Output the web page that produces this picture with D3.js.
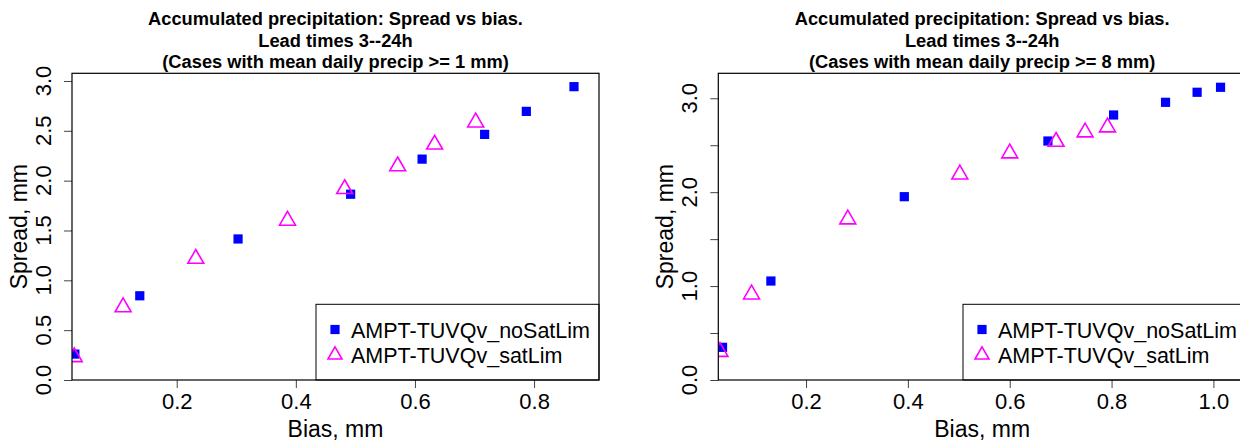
<!DOCTYPE html>
<html>
<head>
<meta charset="utf-8">
<script src="https://cdn.jsdelivr.net/npm/d3@7"></script>
<style>
  body { margin: 0; background: #fff; }
  svg { display: block; font-family: "Liberation Sans", Arial, sans-serif; }
</style>
</head>
<body>
<div id="chart"></div>
<script>
// left panel: cases with mean daily precip >= 1 mm
var biasNoSat1 = [0.029, 0.138, 0.303, 0.492, 0.612, 0.717, 0.787, 0.867];
var spreadNoSat1 = [0.26, 0.845, 1.415, 1.864, 2.216, 2.464, 2.695, 2.943];
var biasSat1 = [0.028, 0.110, 0.232, 0.386, 0.482, 0.571, 0.633, 0.702];
var spreadSat1 = [0.23, 0.731, 1.217, 1.599, 1.917, 2.145, 2.363, 2.585];

// right panel: cases with mean daily precip >= 8 mm
var biasNoSat8 = [0.036, 0.131, 0.393, 0.675, 0.804, 0.906, 0.968, 1.014];
var spreadNoSat8 = [0.348, 1.054, 1.952, 2.545, 2.822, 2.957, 3.064, 3.117];
var biasSat8 = [0.031, 0.093, 0.282, 0.502, 0.600, 0.691, 0.748, 0.792];
var spreadSat8 = [0.30, 0.912, 1.711, 2.19, 2.414, 2.538, 2.638, 2.691];

var seriesNames = ["AMPT-TUVQv_noSatLim", "AMPT-TUVQv_satLim"];
var titleLines1 = ["Accumulated precipitation: Spread vs bias.", "Lead times 3--24h", "(Cases with mean daily precip >= 1 mm)"];
var titleLines8 = ["Accumulated precipitation: Spread vs bias.", "Lead times 3--24h", "(Cases with mean daily precip >= 8 mm)"];

var xTicks1 = [0.2, 0.4, 0.6, 0.8];
var yTicks1 = [0, 0.5, 1, 1.5, 2, 2.5, 3];
var yLabels1 = [0, 0.5, 1, 1.5, 2, 2.5, 3];
var xTicks8 = [0.2, 0.4, 0.6, 0.8, 1.0];
var yTicks8 = [0, 0.5, 1, 1.5, 2, 2.5, 3];
var yLabels8 = [0, 1, 2, 3];

var W = 1240, H = 442;
var blue = "#0000ff", magenta = "#ff00ff";
var font = '"Liberation Sans", Arial, sans-serif';

var svg = d3.select("#chart").append("svg")
    .attr("width", W)
    .attr("height", H);

// R style triangle (pch 2), centred on the centroid
function triPath(s) {
    var r = 1.555 * s, xc = 1.347 * s, yc = 0.778 * s;
    return "M0," + (-r) + "L" + xc + "," + yc + "L" + (-xc) + "," + yc + "Z";
}

function drawPanel(p) {
    var x = d3.scaleLinear().domain(p.xDomain).range([p.left, p.right]);
    var y = d3.scaleLinear().domain(p.yDomain).range([p.bottom, p.top]);
    var g = svg.append("g");

    var clipId = "clip" + p.id;
    g.append("clipPath").attr("id", clipId)
        .append("rect")
        .attr("x", p.left).attr("y", p.top)
        .attr("width", p.right - p.left).attr("height", p.bottom - p.top);

    // title
    g.append("text")
        .attr("x", (p.left + p.right) / 2)
        .attr("y", 25)
        .attr("text-anchor", "middle")
        .style("font-size", "18.3px")
        .style("font-weight", "bold")
        .selectAll("tspan").data(p.title).join("tspan")
        .attr("x", (p.left + p.right) / 2)
        .attr("dy", (d, i) => i == 0 ? 0 : 21.6)
        .text(d => d);

    // x axis
    var xAxis = g.append("g")
        .attr("transform", "translate(0," + p.bottom + ")")
        .call(d3.axisBottom(x).tickValues(p.xTicks).tickSize(8).tickPadding(5).tickFormat(d3.format(".1f")))
        .attr("font-family", font).attr("font-size", null);
    xAxis.select(".domain").remove();
    xAxis.selectAll("line").attr("stroke", "#444");
    xAxis.selectAll("text").style("font-size", "22px").attr("fill", "#000");

    // y axis, labels rotated like R
    var yAxis = g.append("g")
        .attr("transform", "translate(" + p.left + ",0)")
        .call(d3.axisLeft(y).tickValues(p.yTicks).tickSize(8).tickFormat(""));
    yAxis.select(".domain").remove();
    yAxis.selectAll("line").attr("stroke", "#444");
    g.selectAll(".ylab").data(p.yLabels).join("text")
        .attr("class", "ylab")
        .attr("transform", d => "translate(" + (p.left - 21.5) + "," + y(d) + ") rotate(-90)")
        .attr("text-anchor", "middle")
        .style("font-size", "22px")
        .text(d => d3.format(".1f")(d));

    // axis titles
    g.append("text")
        .attr("x", (p.left + p.right) / 2)
        .attr("y", 437)
        .attr("text-anchor", "middle")
        .style("font-size", "23px")
        .text("Bias, mm");
    g.append("text")
        .attr("transform", "translate(" + (p.left - 45) + "," + ((p.top + p.bottom) / 2) + ") rotate(-90)")
        .attr("text-anchor", "middle")
        .style("font-size", "23px")
        .text("Spread, mm");

    // points
    var pts = g.append("g").attr("clip-path", "url(#" + clipId + ")");
    pts.selectAll(".sq").data(p.bx.map((d, i) => [d, p.by[i]])).join("rect")
        .attr("x", d => x(d[0]) - 4.6)
        .attr("y", d => y(d[1]) - 4.6)
        .attr("width", 9.2).attr("height", 9.2)
        .attr("fill", blue);
    pts.selectAll(".tri").data(p.tx.map((d, i) => [d, p.ty[i]])).join("path")
        .attr("transform", d => "translate(" + x(d[0]) + "," + y(d[1]) + ")")
        .attr("d", triPath(5.9))
        .attr("fill", "none")
        .attr("stroke", magenta)
        .attr("stroke-width", 1.6);

    // legend (bottomright)
    var lg = g.append("g");
    lg.append("rect")
        .attr("x", p.legLeft).attr("y", 304.3)
        .attr("width", p.right - p.legLeft).attr("height", p.bottom - 304.3)
        .attr("fill", "#fff").attr("stroke", "#000").attr("stroke-width", 1);
    lg.append("rect")
        .attr("x", p.legLeft + 19 - 4.6).attr("y", 329.5 - 4.6)
        .attr("width", 9.2).attr("height", 9.2)
        .attr("fill", blue);
    lg.append("path")
        .attr("transform", "translate(" + (p.legLeft + 19) + "," + 355 + ")")
        .attr("d", triPath(5.2))
        .attr("fill", "none").attr("stroke", magenta).attr("stroke-width", 1.6);
    lg.selectAll(".lt").data(seriesNames).join("text")
        .attr("x", p.legLeft + 35)
        .attr("y", (d, i) => 338 + i * 25)
        .style("font-size", "21.5px")
        .text(d => d);

    // box
    g.append("rect")
        .attr("x", p.left).attr("y", p.top)
        .attr("width", p.right - p.left).attr("height", p.bottom - p.top)
        .attr("fill", "none").attr("stroke", "#000").attr("stroke-width", 1.2);
}

drawPanel({
    id: 1, left: 72, right: 599, top: 73.3, bottom: 380,
    xDomain: [0.0242, 0.909], yDomain: [0, 3.077],
    xTicks: xTicks1, yTicks: yTicks1, yLabels: yLabels1,
    bx: biasNoSat1, by: spreadNoSat1, tx: biasSat1, ty: spreadSat1,
    title: titleLines1, legLeft: 316
});

drawPanel({
    id: 8, left: 718.3, right: 1246, top: 73.3, bottom: 380,
    xDomain: [0.0277, 1.064], yDomain: [0, 3.266],
    xTicks: xTicks8, yTicks: yTicks8, yLabels: yLabels8,
    bx: biasNoSat8, by: spreadNoSat8, tx: biasSat8, ty: spreadSat8,
    title: titleLines8, legLeft: 963
});
</script>
</body>
</html>
